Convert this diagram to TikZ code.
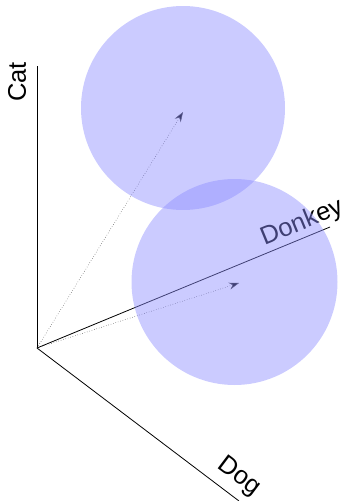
\documentclass[tikz,border=0pt]{standalone}
\usepackage{fontspec}
\setmainfont{Liberation Sans}
\usetikzlibrary{arrows.meta}
\definecolor{blobfill}{RGB}{140,140,255}
\begin{document}
\begin{tikzpicture}[x=1pt,y=-1pt,
  axis/.style={line width=0.8pt, black},
  vec/.style={dotted, line width=0.5pt, black!75, -{Stealth[length=10pt,width=7pt,fill=black]}},
  lbl/.style={font=\fontsize{25.5}{30}\selectfont, inner sep=0pt},
  blob/.style={fill=blobfill, fill opacity=0.45}]
\useasboundingbox (0,0) rectangle (347,501);
% origin and axis ends
\coordinate (O) at (37,348);
\coordinate (catEnd) at (37,66);
\coordinate (donkeyEnd) at (330,227);
\coordinate (dogEnd) at (239,501);
% vector tips and blob centres
\coordinate (tip1) at (183,112);
\coordinate (tip2) at (239,283);
\coordinate (c1) at (183,108);
\coordinate (c2) at (234.5,282);
% axes
\draw[axis] (O) -- (catEnd);
\draw[axis] (O) -- (donkeyEnd);
\draw[axis] (O) -- (dogEnd);
% axis labels
\node[lbl, rotate=90] (cat) at (17,82) {Cat};
\node[lbl, rotate=22.4] (donkey) at (302,223) {Donkey};
\node[lbl, rotate=-37] (dog) at (239,477) {Dog};
% vectors
\draw[vec] (O) -- (tip1);
\draw[vec] (O) -- (tip2);
% translucent blobs
\fill[blob] (c1) circle (102pt);
\fill[blob] (c2) circle (103pt);
\end{tikzpicture}
\end{document}
